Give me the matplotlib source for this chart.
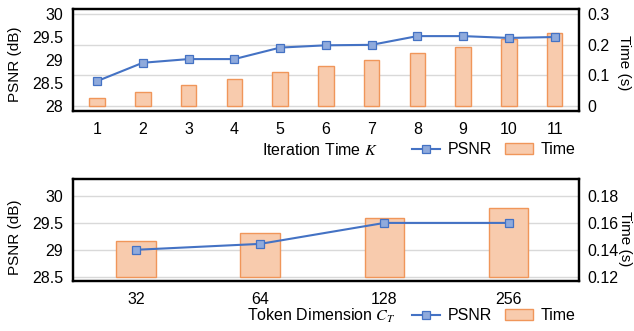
import matplotlib
matplotlib.use("Agg")
import matplotlib.pyplot as plt
import numpy as np
from matplotlib.lines import Line2D
from matplotlib.patches import Patch

plt.rcParams['font.family'] = ['Liberation Sans', 'DejaVu Sans']
plt.rcParams['mathtext.fontset'] = 'stix'

# ---- data ----
iters = [1, 2, 3, 4, 5, 6, 7, 8, 9, 10, 11]
iter_psnr = [28.54, 28.94, 29.02, 29.02, 29.27, 29.32, 29.33, 29.52, 29.52, 29.48, 29.50]
iter_time = [0.027, 0.046, 0.068, 0.089, 0.112, 0.131, 0.151, 0.173, 0.193, 0.217, 0.237]

dims = ['32', '64', '128', '256']
dim_psnr = [29.0, 29.11, 29.5, 29.5]
dim_time = [0.1465, 0.1527, 0.1639, 0.1709]

LINE = '#4472C4'
MFACE = '#8FAADC'
BFACE = '#F8CBAD'
BEDGE = '#F0965A'
GRID = '#D9D9D9'
FS_TICK = 11.5
FS_LAB = 11

fig = plt.figure(figsize=(6.34, 3.31), dpi=100)


def make_panel(rect, xs, psnr, times, ylim_l, ylim_r, yt_l, yt_r, ytl_l, ytl_r,
               xlim, barw, bar_bottom, xticklabels, xlabel, xlab_pos, legend_y,
               ylab_l_pos, ylab_r_pos):
    ax = fig.add_axes(rect)
    ax2 = ax.twinx()
    ax.set_zorder(ax2.get_zorder() + 1)
    ax.patch.set_visible(False)

    ax2.bar(xs, np.array(times) - bar_bottom, bottom=bar_bottom, width=barw,
            color=BFACE, edgecolor=BEDGE, linewidth=1.0, zorder=3)
    ax.plot(xs, psnr, color=LINE, linewidth=1.5, marker='s', markersize=5.5,
            markerfacecolor=MFACE, markeredgecolor=LINE, markeredgewidth=0.9, zorder=4)

    ax.set_xlim(*xlim)
    ax.set_ylim(*ylim_l)
    ax2.set_ylim(*ylim_r)
    ax.set_yticks(yt_l)
    ax.set_yticklabels(ytl_l)
    ax2.set_yticks(yt_r)
    ax2.set_yticklabels(ytl_r)
    ax.set_xticks(xs)
    ax.set_xticklabels(xticklabels)

    ax2.yaxis.grid(True, color=GRID, linewidth=1.0, zorder=0)
    ax2.set_axisbelow(True)

    ax.tick_params(axis='both', length=0, labelsize=FS_TICK)
    ax.tick_params(axis='y', pad=7)
    ax.tick_params(axis='x', pad=8)
    ax2.tick_params(axis='y', length=0, labelsize=FS_TICK, pad=6)

    for a in (ax, ax2):
        for s in a.spines.values():
            s.set_linewidth(1.6)
            s.set_color('black')

    ax.set_ylabel('PSNR (dB)', fontsize=FS_LAB, va='center')
    ax.yaxis.set_label_coords(*ylab_l_pos)
    ax2.set_ylabel('Time (s)', fontsize=FS_LAB, rotation=270, va='center')
    ax2.yaxis.set_label_coords(*ylab_r_pos)

    ax.set_xlabel(xlabel, fontsize=FS_LAB + 0.5, va='center')
    ax.xaxis.set_label_coords(*xlab_pos)

    handles = [
        Line2D([0], [0], color=LINE, linewidth=1.5, marker='s', markersize=5.5,
               markerfacecolor=MFACE, markeredgecolor=LINE, markeredgewidth=0.9),
        Patch(facecolor=BFACE, edgecolor=BEDGE, linewidth=1.0),
    ]
    ax.legend(handles, ['PSNR', 'Time'], loc='center right',
              bbox_to_anchor=(0.993, legend_y), ncol=2, frameon=False,
              fontsize=FS_LAB + 0.5, handlelength=1.75, handleheight=0.7,
              handletextpad=0.5, columnspacing=0.8, borderpad=0, borderaxespad=0)
    return ax, ax2


# top panel
make_panel([0.1151, 0.6647, 0.798, 0.308], iters, iter_psnr, iter_time,
           (27.891, 30.109), (-0.0163, 0.3163),
           [28, 28.5, 29, 29.5, 30], [0, 0.1, 0.2, 0.3],
           ['28', '28.5', '29', '29.5', '30'], ['0', '0.1', '0.2', '0.3'],
           (0.475, 11.53), 0.34, 0.0, [str(i) for i in iters],
           'Iteration Time $K$', (0.488, -0.382), -0.382,
           (-0.115, 0.46), (1.089, 0.47))

# bottom panel
make_panel([0.1151, 0.1511, 0.798, 0.308], np.arange(len(dims)), dim_psnr, dim_time,
           (28.42, 30.316), (0.1168, 0.1926),
           [28.5, 29, 29.5, 30], [0.12, 0.14, 0.16, 0.18],
           ['28.5', '29', '29.5', '30'], ['0.12', '0.14', '0.16', '0.18'],
           (-0.507, 3.566), 0.32, 0.12, dims,
           'Token Dimension $C_T$', (0.49, -0.34), -0.34,
           (-0.115, 0.43), (1.092, 0.41))

fig.savefig('out.png', dpi=100)
